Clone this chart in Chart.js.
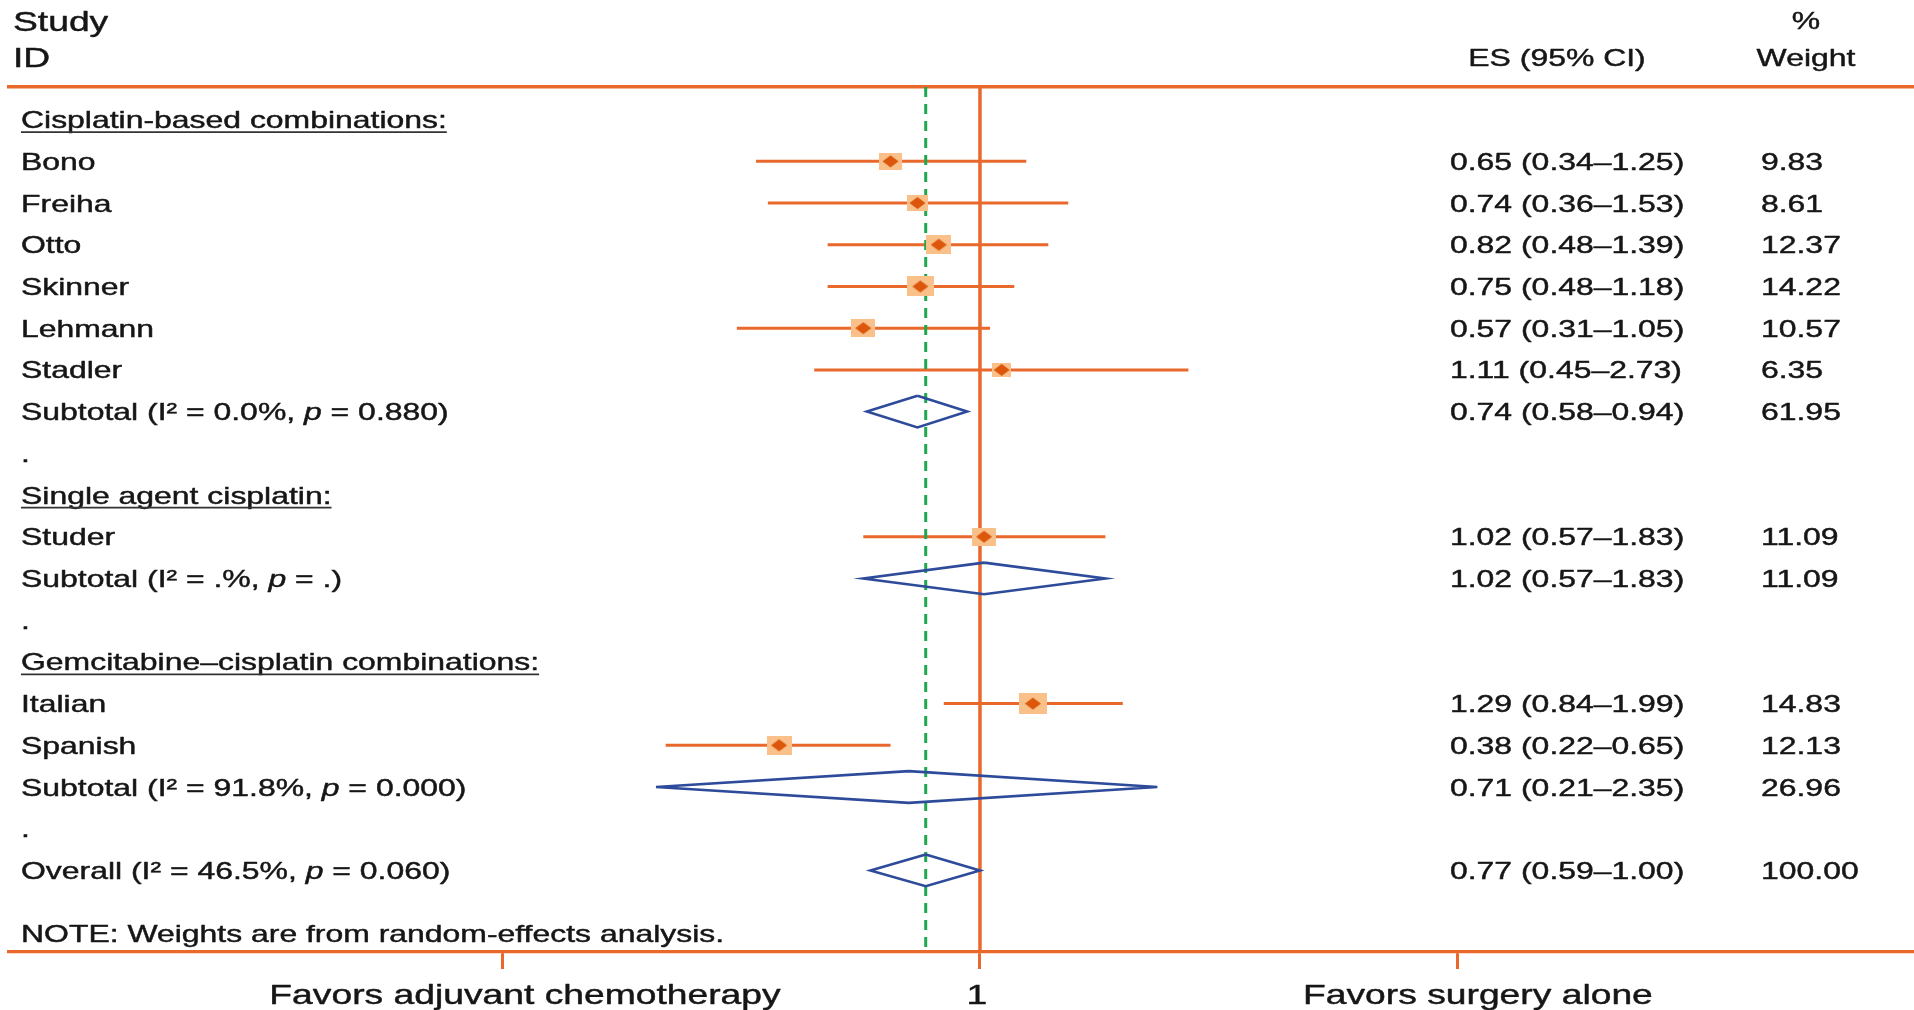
<!DOCTYPE html>
<html>
<head>
<meta charset="utf-8">
<script src="https://cdn.jsdelivr.net/npm/chart.js@4.4.1/dist/chart.umd.min.js"></script>
<style>
  html, body { margin: 0; padding: 0; background: #ffffff; overflow: hidden; }
  #wrap { width: 1914px; height: 1010px; overflow: hidden; }
  #forest { display: block; }
</style>
</head>
<body>
<div id="wrap"><canvas id="forest" width="1914" height="1010"></canvas></div>
<script>
// ---- Subgroups ----
const groupNames = ['Cisplatin-based combinations:', 'Single agent cisplatin:', 'Gemcitabine\u2013cisplatin combinations:'];

// ---- Individual trials ----
const studyNames  = ['Bono', 'Freiha', 'Otto', 'Skinner', 'Lehmann', 'Stadler', 'Studer', 'Italian', 'Spanish'];
const studyGroup  = [0, 0, 0, 0, 0, 0, 1, 2, 2];
const studyES     = [0.65, 0.74, 0.82, 0.75, 0.57, 1.11, 1.02, 1.29, 0.38];
const studyLo     = [0.34, 0.36, 0.48, 0.48, 0.31, 0.45, 0.57, 0.84, 0.22];
const studyHi     = [1.25, 1.53, 1.39, 1.18, 1.05, 2.73, 1.83, 1.99, 0.65];
const studyWeight = [9.83, 8.61, 12.37, 14.22, 10.57, 6.35, 11.09, 14.83, 12.13];

// ---- Pooled subgroup estimates ----
const subES     = [0.74, 1.02, 0.71];
const subLo     = [0.58, 0.57, 0.21];
const subHi     = [0.94, 1.83, 2.35];
const subWeight = [61.95, 11.09, 26.96];
const subI2     = ['0.0', '.', '91.8'];
const subP      = ['0.880', '.', '0.000'];

// ---- Overall pooled estimate ----
const overallES = 0.77, overallLo = 0.59, overallHi = 1.00, overallWeight = 100.00;
const overallI2 = '46.5', overallP = '0.060';

// ---- Axis ----
const axisTicks  = [0.1, 1, 10];
const axisLabels = ['Favors adjuvant chemotherapy', '1', 'Favors surgery alone'];
const noteText   = 'NOTE: Weights are from random-effects analysis.';

// ---- Styling ----
const ORANGE = '#E9692C';
const DOT    = '#DC570C';
const SQUARE = '#F9C089';
const NAVY   = '#2D4B9A';
const GREEN  = '#1FA74F';
const INK    = '#161616';
const FONT   = '"Liberation Sans", Arial, Helvetica, sans-serif';
const SX     = 1.33;     // horizontal text stretch
const BODY   = 24;
const BIG    = 28;
const DIAMOND_HALF = 0.38; // pooled diamond half-height (rows)
const SQUARE_K = 5.4;      // square height per sqrt(weight)

// ---- Row layout ----
const rows = [];
let r = 0;
groupNames.forEach((g, gi) => {
  rows.push({ kind: 'group', y: r++, gi });
  studyNames.forEach((n, i) => { if (studyGroup[i] === gi) rows.push({ kind: 'study', y: r++, i }); });
  rows.push({ kind: 'subtotal', y: r++, gi });
  rows.push({ kind: 'gap', y: r++ });
});
rows.push({ kind: 'overall', y: r++ });
const noteRow = r + 0.5;
const yMin = -0.782, yMax = 19.956;

// ---- Dataset construction ----
const ciData = [], pointData = [], pointWeights = [], diamondData = [];
function pushDiamond(es, lo, hi, y) {
  diamondData.push({ x: es, y: y - DIAMOND_HALF }, { x: hi, y }, { x: es, y: y + DIAMOND_HALF },
                   { x: lo, y }, { x: es, y: y - DIAMOND_HALF }, { x: null, y: null });
}
rows.forEach(row => {
  if (row.kind === 'study') {
    const i = row.i;
    ciData.push({ x: studyLo[i], y: row.y }, { x: studyHi[i], y: row.y }, { x: null, y: null });
    pointData.push({ x: studyES[i], y: row.y });
    pointWeights.push(studyWeight[i]);
  } else if (row.kind === 'subtotal') {
    pushDiamond(subES[row.gi], subLo[row.gi], subHi[row.gi], row.y);
  } else if (row.kind === 'overall') {
    pushDiamond(overallES, overallLo, overallHi, row.y);
  }
});

// weighted square with a small solid diamond at the estimate
const markerCache = {};
function trialMarker(w) {
  if (markerCache[w]) return markerCache[w];
  const h = Math.round(SQUARE_K * Math.sqrt(w));
  const wd = Math.round(h * SX);
  const c = document.createElement('canvas');
  c.width = wd; c.height = h;
  const g = c.getContext('2d');
  g.fillStyle = SQUARE;
  g.fillRect(0, 0, wd, h);
  g.fillStyle = DOT;
  g.beginPath();
  g.moveTo(wd / 2 - 8, h / 2);
  g.lineTo(wd / 2, h / 2 - 6);
  g.lineTo(wd / 2 + 8, h / 2);
  g.lineTo(wd / 2, h / 2 + 6);
  g.closePath();
  g.fill();
  markerCache[w] = c;
  return c;
}

// ---- Text helpers ----
function drawRich(ctx, segs, x, y, size, align) {
  const widths = segs.map(([t, it]) => {
    ctx.font = (it ? 'italic ' : '') + size + 'px ' + FONT;
    return ctx.measureText(t).width;
  });
  const total = widths.reduce((a, b) => a + b, 0);
  const start = align === 'center' ? x - total * SX / 2 : x;
  ctx.save();
  ctx.translate(start, y);
  ctx.scale(SX, 1);
  ctx.strokeStyle = INK;
  ctx.lineWidth = 0.45;
  ctx.lineJoin = 'round';
  let cx = 0;
  segs.forEach(([t, it], k) => {
    ctx.font = (it ? 'italic ' : '') + size + 'px ' + FONT;
    ctx.fillText(t, cx, 0);
    ctx.strokeText(t, cx, 0);
    cx += widths[k];
  });
  ctx.restore();
  return { start, width: total * SX };
}
const fmt2 = v => v.toFixed(2);
const esText = (e, l, h) => fmt2(e) + ' (' + fmt2(l) + '\u2013' + fmt2(h) + ')';
const hetSegs = (lead, i2, p) => [[lead + ' (I\u00B2 = ' + i2 + '%, ', false], ['p', true], [' = ' + p + ')', false]];

const LABEL_X = 21, ES_X = 1450, WT_X = 1761, ES_HEAD_X = 1557, WT_HEAD_X = 1806;
const labelOffsets = [23, -3, 20];

const textPlugin = {
  id: 'forestText',
  afterDraw(chart) {
    const ctx = chart.ctx;
    const ys = chart.scales.y, xs = chart.scales.x;
    const base = (rowY, size) => ys.getPixelForValue(rowY) + size * 0.716 / 2;
    ctx.save();
    ctx.fillStyle = INK;
    ctx.textBaseline = 'alphabetic';

    // column headings
    drawRich(ctx, [['Study', false]], 13, 31, BIG, 'left');
    drawRich(ctx, [['ID', false]], 13, 67, BIG, 'left');
    drawRich(ctx, [['ES (95% CI)', false]], ES_HEAD_X, 66, BODY, 'center');
    drawRich(ctx, [['%', false]], WT_HEAD_X, 29, BODY, 'center');
    drawRich(ctx, [['Weight', false]], WT_HEAD_X, 66, BODY, 'center');

    rows.forEach(row => {
      const by = base(row.y, BODY);
      if (row.kind === 'group') {
        const m = drawRich(ctx, [[groupNames[row.gi], false]], LABEL_X, by, BODY, 'left');
        ctx.strokeStyle = '#333333';
        ctx.lineWidth = 1.8;
        ctx.beginPath();
        ctx.moveTo(m.start, by + 4);
        ctx.lineTo(m.start + m.width, by + 4);
        ctx.stroke();
      } else if (row.kind === 'study') {
        const i = row.i;
        drawRich(ctx, [[studyNames[i], false]], LABEL_X, by, BODY, 'left');
        drawRich(ctx, [[esText(studyES[i], studyLo[i], studyHi[i]), false]], ES_X, by, BODY, 'left');
        drawRich(ctx, [[fmt2(studyWeight[i]), false]], WT_X, by, BODY, 'left');
      } else if (row.kind === 'subtotal') {
        const g = row.gi;
        drawRich(ctx, hetSegs('Subtotal', subI2[g], subP[g]), LABEL_X, by, BODY, 'left');
        drawRich(ctx, [[esText(subES[g], subLo[g], subHi[g]), false]], ES_X, by, BODY, 'left');
        drawRich(ctx, [[fmt2(subWeight[g]), false]], WT_X, by, BODY, 'left');
      } else if (row.kind === 'gap') {
        drawRich(ctx, [['.', false]], LABEL_X, by, BODY, 'left');
      } else if (row.kind === 'overall') {
        drawRich(ctx, hetSegs('Overall', overallI2, overallP), LABEL_X, by, BODY, 'left');
        drawRich(ctx, [[esText(overallES, overallLo, overallHi), false]], ES_X, by, BODY, 'left');
        drawRich(ctx, [[fmt2(overallWeight), false]], WT_X, by, BODY, 'left');
      }
    });
    drawRich(ctx, [[noteText, false]], LABEL_X, base(noteRow, BODY), BODY, 'left');

    // axis labels
    axisTicks.forEach((v, k) => {
      drawRich(ctx, [[axisLabels[k], false]], xs.getPixelForValue(v) + labelOffsets[k], 1004, BIG, 'center');
    });
    ctx.restore();
  }
};

new Chart(document.getElementById('forest'), {
  type: 'scatter',
  data: {
    datasets: [
      { // trial markers
        data: pointData,
        pointStyle: ctx => trialMarker(pointWeights[ctx.dataIndex]),
        pointRadius: 6,
        order: 0
      },
      { // pooled diamonds
        data: diamondData,
        showLine: true, spanGaps: false, pointRadius: 0,
        borderColor: NAVY, borderWidth: 2.6, borderJoinStyle: 'miter',
        order: 1
      },
      { // overall estimate line
        data: [{ x: overallES, y: yMin }, { x: overallES, y: yMax }],
        showLine: true, pointRadius: 0,
        borderColor: GREEN, borderWidth: 3, borderDash: [10, 7],
        order: 2
      },
      { // confidence intervals
        data: ciData,
        showLine: true, spanGaps: false, pointRadius: 0,
        borderColor: ORANGE, borderWidth: 3,
        order: 3
      },
      { // line of no effect
        data: [{ x: 1, y: yMin }, { x: 1, y: yMax }],
        showLine: true, pointRadius: 0,
        borderColor: ORANGE, borderWidth: 3.5,
        order: 4
      }
    ]
  },
  options: {
    responsive: false,
    animation: false,
    events: [],
    layout: { autoPadding: false, padding: { left: 9, right: 0, top: 87, bottom: 41 } },
    plugins: { legend: { display: false }, tooltip: { enabled: false } },
    scales: {
      x: {
        type: 'logarithmic', position: 'bottom',
        min: 0.0093, max: 90,
        afterBuildTicks: s => { s.ticks = axisTicks.map(v => ({ value: v })); },
        ticks: { display: false },
        grid: { display: true, drawOnChartArea: false, drawTicks: true, tickLength: 17, color: ORANGE, lineWidth: 3 },
        border: { display: true, color: ORANGE, width: 3.2 }
      },
      xTop: {
        type: 'logarithmic', position: 'top', axis: 'x',
        min: 0.0093, max: 90,
        ticks: { display: false },
        grid: { display: false, drawTicks: false },
        border: { display: true, color: ORANGE, width: 3.6 }
      },
      y: {
        type: 'linear', reverse: true, min: yMin, max: yMax,
        display: false
      }
    }
  },
  plugins: [textPlugin]
});
</script>
</body>
</html>
